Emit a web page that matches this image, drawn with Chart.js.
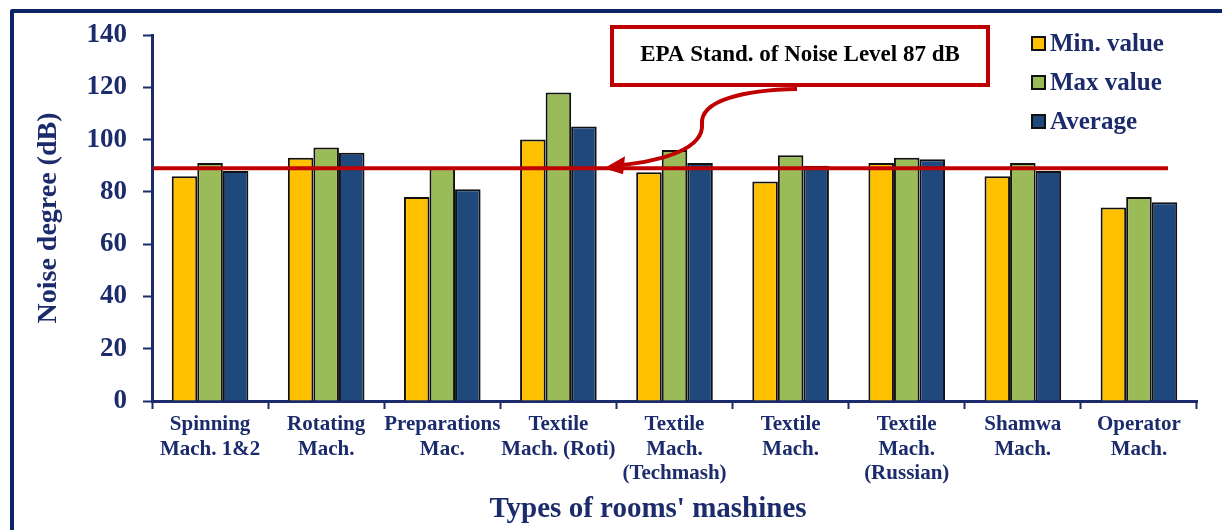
<!DOCTYPE html>
<html>
<head>
<meta charset="utf-8">
<script src="https://cdn.jsdelivr.net/npm/chart.js@4"></script>
<style>
  body { margin: 0; background: #fff; }
  #wrap { position: relative; width: 1222px; height: 530px; overflow: hidden; }
  #frame {
    position: absolute; left: 10px; top: 9px; width: 1300px; height: 600px;
    border-top: 4px solid #0b2464; border-left: 4px solid #0b2464;
    border-top-left-radius: 3px;
  }
  #noiseChart { position: absolute; left: 0; top: 0; }
</style>
</head>
<body>
<div id="wrap">
  <div id="frame"></div>
  <canvas id="noiseChart" width="1222" height="530"></canvas>
</div>
<script>
/* DATA */

const machines = [
  ["Spinning", "Mach. 1&2"],
  ["Rotating", "Mach."],
  ["Preparations", "Mac."],
  ["Textile", "Mach. (Roti)"],
  ["Textile", "Mach.", "(Techmash)"],
  ["Textile", "Mach."],
  ["Textile", "Mach.", "(Russian)"],
  ["Shamwa", "Mach."],
  ["Operator", "Mach."]
];

const minValues = [86, 93, 78, 100, 87.5, 84, 91, 86, 74];
const maxValues = [91, 97, 89, 118, 96, 94, 93, 91, 78];
const avgValues = [88, 95, 81, 105, 91, 90, 92.5, 88, 76];

const seriesNames = ["Min. value", "Max value", "Average"];
const seriesColors = ["#ffc000", "#9bbb59", "#1f497d"];

const yTicks = [0, 20, 40, 60, 80, 100, 120, 140];

// red line is drawn a little above the 87 on the label
const epaLine = 89;
const epaLabel = "EPA Stand. of Noise Level 87 dB";

/* STYLE */

const NAVY = "#1b2b6b";
const RED = "#c00000";
const SERIF = "'Liberation Serif', 'Times New Roman', serif";

/* OVERLAY: legend, EPA line, callout, x title */

const overlay = {
  id: "overlay",
  afterDatasetsDraw(chart) {
    const ctx = chart.ctx;
    const area = chart.chartArea;
    const yPix = chart.scales.y.getPixelForValue(epaLine);

    ctx.save();

    // EPA line
    ctx.strokeStyle = RED;
    ctx.lineWidth = 4;
    ctx.beginPath();
    ctx.moveTo(area.left + 1, yPix);
    ctx.lineTo(1168, yPix);
    ctx.stroke();

    // callout box
    ctx.fillStyle = "#fff";
    ctx.fillRect(612, 27, 376, 58);
    ctx.strokeRect(612, 27, 376, 58);
    ctx.fillStyle = "#000";
    ctx.font = "bold 23px " + SERIF;
    ctx.textAlign = "center";
    ctx.textBaseline = "middle";
    ctx.fillText(epaLabel, 800, 55);

    // curved arrow
    ctx.strokeStyle = RED;
    ctx.lineWidth = 4;
    ctx.beginPath();
    ctx.moveTo(797, 89);
    ctx.bezierCurveTo(745, 90, 700, 100, 702, 124);
    ctx.bezierCurveTo(704, 148, 665, 161, 618, yPix - 3);
    ctx.stroke();
    ctx.fillStyle = RED;
    ctx.beginPath();
    ctx.moveTo(604, yPix);
    ctx.lineTo(625, yPix - 12);
    ctx.lineTo(623, yPix + 6);
    ctx.closePath();
    ctx.fill();

    // legend
    ctx.font = "bold 25px " + SERIF;
    ctx.textAlign = "left";
    ctx.textBaseline = "middle";
    seriesNames.forEach((name, i) => {
      const cy = 44 + i * 39;
      ctx.fillStyle = seriesColors[i];
      ctx.fillRect(1032, cy - 7, 13, 13);
      ctx.strokeStyle = "#111";
      ctx.lineWidth = 2;
      ctx.strokeRect(1032, cy - 7, 13, 13);
      ctx.fillStyle = NAVY;
      ctx.fillText(name, 1050, cy + 1);
    });

    // x axis title
    ctx.font = "bold 29px " + SERIF;
    ctx.textAlign = "center";
    ctx.fillText("Types of rooms' mashines", 648, 510);

    ctx.restore();
  }
};

/* CHART */

const datasets = [minValues, maxValues, avgValues].map((vals, i) => ({
  label: seriesNames[i],
  data: vals,
  backgroundColor: seriesColors[i],
  borderColor: "#111",
  borderWidth: 2,
  barPercentage: 1,
  categoryPercentage: 0.66
}));

new Chart(document.getElementById("noiseChart"), {
  type: "bar",
  data: { labels: machines, datasets },
  options: {
    responsive: false,
    animation: false,
    devicePixelRatio: 1,
    layout: { padding: { left: 0, top: 35, right: 25, bottom: 0 } },
    plugins: {
      legend: { display: false },
      tooltip: { enabled: false }
    },
    scales: {
      x: {
        afterFit(scale) { scale.height = 129; },
        grid: {
          offset: true,
          drawOnChartArea: false,
          drawTicks: true,
          tickLength: 8,
          tickWidth: 2,
          tickColor: NAVY
        },
        border: { color: NAVY, width: 3 },
        ticks: {
          autoSkip: false,
          maxRotation: 0,
          padding: 4,
          color: NAVY,
          font: { family: SERIF, size: 21, weight: "bold", lineHeight: 1.15 }
        }
      },
      y: {
        min: 0,
        max: 140,
        afterFit(scale) { scale.width = 152; },
        afterBuildTicks(scale) { scale.ticks = yTicks.map(v => ({ value: v })); },
        grid: {
          drawOnChartArea: false,
          drawTicks: true,
          tickLength: 9,
          tickWidth: 2,
          tickColor: NAVY
        },
        border: { color: NAVY, width: 3 },
        ticks: {
          padding: 16,
          color: NAVY,
          font: { family: SERIF, size: 27, weight: "bold" }
        },
        title: {
          display: true,
          text: "Noise degree (dB)",
          color: NAVY,
          padding: { top: 32, bottom: 0 },
          font: { family: SERIF, size: 28, weight: "bold" }
        }
      }
    }
  },
  plugins: [overlay]
});
</script>
</body>
</html>
